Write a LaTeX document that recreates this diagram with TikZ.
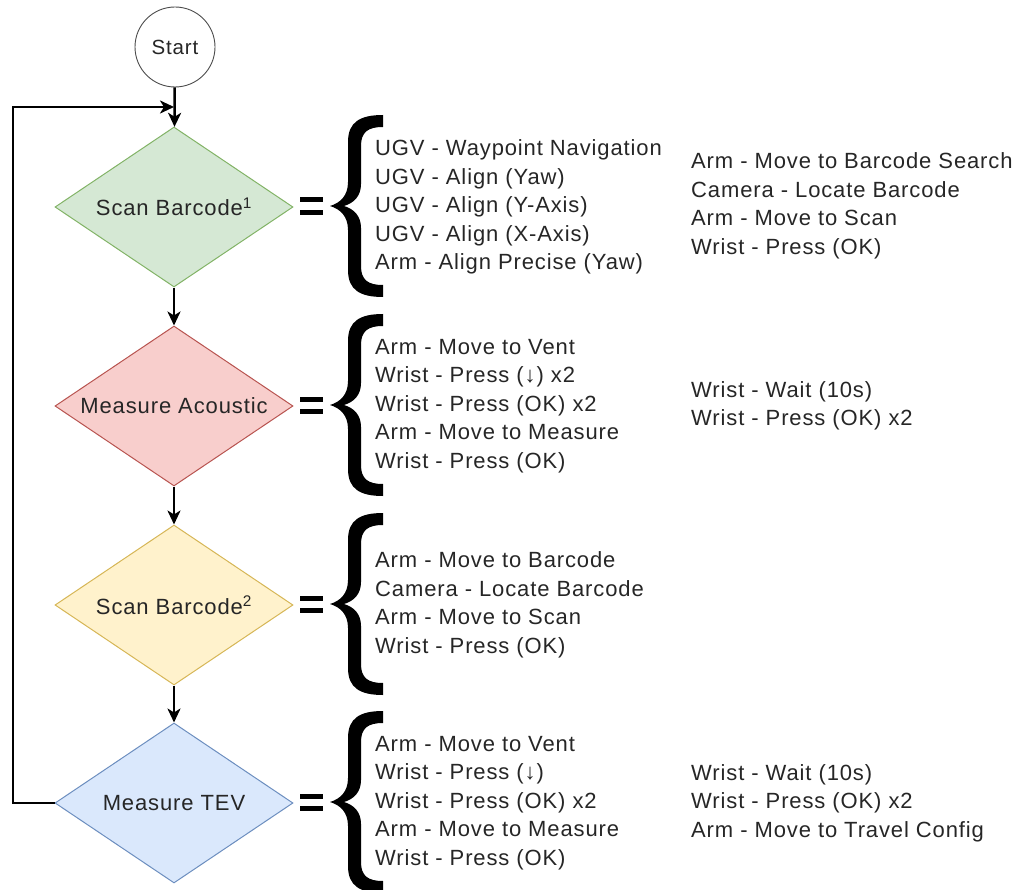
\documentclass[tikz,border=0pt]{standalone}
\usepackage{fontspec}
\setmainfont{Liberation Sans}[LetterSpace=4]
\usetikzlibrary{shapes.geometric,arrows.meta}
\definecolor{txt}{HTML}{262626}
\definecolor{greenfill}{HTML}{D5E8D4}\definecolor{greenline}{HTML}{82B366}
\definecolor{redfill}{HTML}{F8CECC}\definecolor{redline}{HTML}{B85450}
\definecolor{yellowfill}{HTML}{FFF2CC}\definecolor{yellowline}{HTML}{D6B656}
\definecolor{bluefill}{HTML}{DAE8FC}\definecolor{blueline}{HTML}{6C8EBF}
\begin{document}
\begin{tikzpicture}[x=1pt,y=-1pt,
  decision/.style={diamond, draw, line width=1pt, minimum width=238pt,
    minimum height=160pt, inner sep=0pt, aspect=1.48,
    font=\fontsize{22}{24}\selectfont, text=txt},
  startnode/.style={circle, draw=black!70, line width=0.9pt, minimum size=80pt,
    inner sep=0pt, font=\fontsize{20.5}{22}\selectfont, text=txt},
  flow/.style={line width=2.5pt, -{Stealth[length=14pt,width=13pt,inset=4pt]}},
  steps/.style={anchor=west, align=left, inner sep=0pt,
    font=\fontsize{22}{28.5}\selectfont, text=txt},
  equal/.style={line width=5pt},
  curlybrace/.pic={
    \fill
      (53,-91) .. controls (30,-91) and (18,-84) .. (18,-64) -- (18,-24)
      .. controls (18,-10) and (10,-3) .. (0,0)
      .. controls (10,3) and (18,10) .. (18,24) -- (18,64)
      .. controls (18,84) and (30,91) .. (53,91) -- (53,79)
      .. controls (38,79) and (31,74) .. (31,60) -- (31,22)
      .. controls (31,10) and (24,3) .. (14,0)
      .. controls (24,-3) and (31,-10) .. (31,-22) -- (31,-60)
      .. controls (31,-74) and (38,-79) .. (53,-79) -- cycle;
  },
]
\useasboundingbox (0,0) rectangle (1022,890);

% flowchart column
\node[startnode] (start) at (175,47) {Start};
\node[decision, fill=greenfill, draw=greenline] (d1) at (174,207) {Scan Barcode\textsuperscript{1}};
\node[decision, fill=redfill, draw=redline] (d2) at (174,406) {Measure Acoustic};
\node[decision, fill=yellowfill, draw=yellowline] (d3) at (174,605) {Scan Barcode\textsuperscript{2}};
\node[decision, fill=bluefill, draw=blueline] (d4) at (174,803) {Measure TEV};

\draw[flow] (start) -- (d1);
\draw[flow] (d1) -- (d2);
\draw[flow] (d2) -- (d3);
\draw[flow] (d3) -- (d4);

% return loop back to the first scan
\coordinate (loopcorner) at (13,107);
\coordinate (loopin) at (174,107);
\draw[flow] (d4.west) -| (loopcorner) -- (loopin);

% equals signs and braces
\foreach \cy in {207,406,605,803}{
  \draw[equal] (300,\cy-7) -- (323,\cy-7);
  \draw[equal] (300,\cy+5.5) -- (323,\cy+5.5);
  \pic at (330,\cy-1) {curlybrace};
}

% step lists
\node[steps] (s1) at (375,207) {UGV - Waypoint Navigation\\UGV - Align (Yaw)\\UGV - Align (Y-Axis)\\UGV - Align (X-Axis)\\Arm - Align Precise (Yaw)};
\node[steps] (s1b) at (691,206) {Arm - Move to Barcode Search\\Camera - Locate Barcode\\Arm - Move to Scan\\Wrist - Press (OK)};

\node[steps] (s2) at (375,406) {Arm - Move to Vent\\Wrist - Press (↓) x2\\Wrist - Press (OK) x2\\Arm - Move to Measure\\Wrist - Press (OK)};
\node[steps] (s2b) at (691,406) {Wrist - Wait (10s)\\Wrist - Press (OK) x2};

\node[steps] (s3) at (375,605) {Arm - Move to Barcode\\Camera - Locate Barcode\\Arm - Move to Scan\\Wrist - Press (OK)};

\node[steps] (s4) at (375,803) {Arm - Move to Vent\\Wrist - Press (↓)\\Wrist - Press (OK) x2\\Arm - Move to Measure\\Wrist - Press (OK)};
\node[steps] (s4b) at (691,803) {Wrist - Wait (10s)\\Wrist - Press (OK) x2\\Arm - Move to Travel Config};
\end{tikzpicture}
\end{document}
